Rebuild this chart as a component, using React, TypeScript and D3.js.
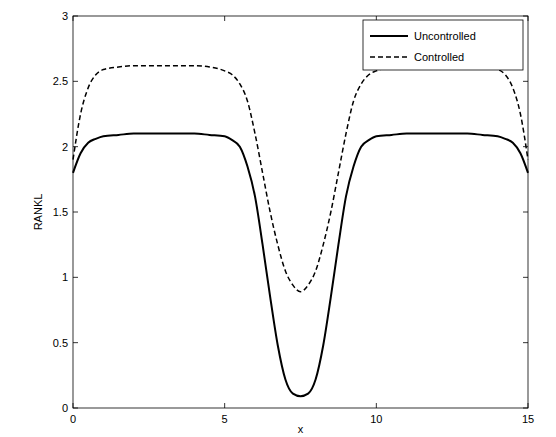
import React from "react";
import * as d3 from "d3";

const xHalf = [0,0.25,0.5,0.75,1,1.5,2,2.5,3,3.5,4,4.5,5,5.25,5.5,5.75,6,6.25,6.5,6.75,7,7.25,7.5];
const uncontrolledHalf = [1.8,1.95,2.03,2.06,2.08,2.09,2.1,2.1,2.1,2.1,2.1,2.09,2.08,2.05,2.0,1.85,1.62,1.25,0.85,0.48,0.22,0.11,0.09];
const controlledHalf = [1.9,2.25,2.45,2.55,2.59,2.61,2.62,2.62,2.62,2.62,2.62,2.61,2.58,2.55,2.48,2.35,2.1,1.8,1.5,1.25,1.05,0.94,0.89];
const xTicks = [0,5,10,15];
const yTicks = [0,0.5,1,1.5,2,2.5,3];

function mirror(vals: number[]) {
  const pts = xHalf.map((x, i) => [x, vals[i]] as [number, number]);
  const back = xHalf.slice(0, -1).reverse().map((x, i) => [15 - x, vals[xHalf.length - 2 - i]] as [number, number]);
  return pts.concat(back);
}

export default function App() {
  const L = 73, R = 528, T = 16, B = 408;
  const x = d3.scaleLinear().domain([0, 15]).range([L, R]);
  const y = d3.scaleLinear().domain([0, 3]).range([B, T]);
  const line = d3.line<[number, number]>().x(d => x(d[0])).y(d => y(d[1])).curve(d3.curveMonotoneX);
  const font = { fontFamily: "Arial, Liberation Sans, sans-serif", fontSize: 11 };
  return (
    <svg width={556} height={437} style={{ position: "absolute", left: 0, top: 0, background: "#fff" }}>
      <rect x={0} y={0} width={556} height={437} fill="#fff" />
      <rect x={L} y={T} width={R - L} height={B - T} fill="#fff" stroke="#000" strokeWidth={0.8} />
      {xTicks.map(t => (
        <g key={"x" + t}>
          <line x1={x(t)} x2={x(t)} y1={B} y2={B - 5} stroke="#000" strokeWidth={0.8} />
          <line x1={x(t)} x2={x(t)} y1={T} y2={T + 5} stroke="#000" strokeWidth={0.8} />
          <text x={x(t)} y={B + 15} textAnchor="middle" {...font}>{t}</text>
        </g>
      ))}
      {yTicks.map(t => (
        <g key={"y" + t}>
          <line x1={L} x2={L + 5} y1={y(t)} y2={y(t)} stroke="#000" strokeWidth={0.8} />
          <line x1={R} x2={R - 5} y1={y(t)} y2={y(t)} stroke="#000" strokeWidth={0.8} />
          <text x={L - 5} y={y(t) + 4} textAnchor="end" {...font}>{t}</text>
        </g>
      ))}
      <text x={(L + R) / 2} y={433} textAnchor="middle" {...font}>x</text>
      <text transform={`translate(42,${(T + B) / 2}) rotate(-90)`} textAnchor="middle" {...font}>RANKL</text>
      <path d={line(mirror(uncontrolledHalf)) || ""} fill="none" stroke="#000" strokeWidth={2} />
      <path d={line(mirror(controlledHalf)) || ""} fill="none" stroke="#000" strokeWidth={1.5} strokeDasharray="5,3" />
      <g>
        <rect x={363} y={20} width={160} height={50} fill="#fff" stroke="#000" strokeWidth={0.8} />
        <line x1={370} x2={408} y1={36} y2={36} stroke="#000" strokeWidth={2} />
        <text x={414} y={40} {...font}>Uncontrolled</text>
        <line x1={370} x2={408} y1={57} y2={57} stroke="#000" strokeWidth={1.5} strokeDasharray="5,3" />
        <text x={414} y={61} {...font}>Controlled</text>
      </g>
    </svg>
  );
}
